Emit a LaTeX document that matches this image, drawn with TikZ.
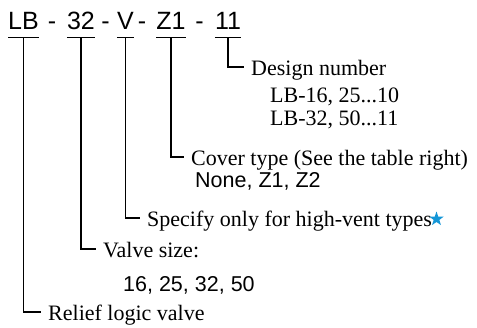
\documentclass[tikz,border=0pt]{standalone}
\usepackage{fontspec}
\setmainfont{Liberation Serif}
\setsansfont{Liberation Sans}
\usetikzlibrary{shapes.geometric}
\definecolor{starblue}{RGB}{20,150,215}

\tikzset{
    part/.style={font=\fontsize{25}{25}\sffamily, anchor=base, inner xsep=0pt, inner ysep=8.5pt, text depth=0pt},
    sep/.style={font=\fontsize{25}{25}\sffamily, anchor=base, inner sep=0pt},
    note/.style={font=\fontsize{22}{22}\selectfont, anchor=base west, inner xsep=7pt, inner ysep=0pt, text height=16pt, text depth=0pt},
    subnote/.style={font=\fontsize{22}{22}\selectfont, anchor=base west, inner sep=0pt},
    subcode/.style={font=\fontsize{21.5}{21.5}\sffamily, anchor=base west, inner sep=0pt},
    lead/.style={black, line width=1.2pt}
}

\begin{document}
\begin{tikzpicture}[x=1pt, y=-1pt]
\useasboundingbox (0,0) rectangle (477,327);
% model code
    \node[part] (lb) at (23.5,29) {LB};
    \node[sep] (d1) at (52,29) {-};
    \node[part] (size) at (81,29) {32};
    \node[sep] (d2) at (105.5,29) {-};
    \node[part] (vent) at (125.5,29) {V};
    \node[sep] (d3) at (142,29) {-};
    \node[part] (cover) at (171,29) {Z1};
    \node[sep] (d4) at (199.5,29) {-};
    \node[part] (design) at (228,29) {11};
    % underlines
    \foreach \p in {lb,size,vent,cover,design}
        \draw[lead] (\p.south west) -- (\p.south east);
    % notes
    \node[note] (designtxt) at (244,75) {Design number};
    \node[subnote] (design1) at (270,102) {LB-16, 25...10};
    \node[subnote] (design2) at (270,125) {LB-32, 50...11};
    \node[note] (covertxt) at (184,165) {Cover type (See the table right)};
    \node[subcode] (cover1) at (195,187) {None, Z1, Z2};
    \node[note] (venttxt) at (140,226) {Specify only for high-vent types};
    \node[note] (sizetxt) at (96,257) {Valve size:};
    \node[subcode] (size1) at (123,291) {16, 25, 32, 50};
    \node[note] (lbtxt) at (41,320) {Relief logic valve};
    \node[star, star points=5, star point ratio=2.5, minimum size=15pt, inner sep=0pt, fill=starblue] (mark) at (436.5,219) {};
    %draw leaders
    \draw[lead] (design.south) |- (designtxt.west);
    \draw[lead] (cover.south) |- (covertxt.west);
    \draw[lead] (vent.south) |- (venttxt.west);
    \draw[lead] (size.south) |- (sizetxt.west);
    \draw[lead] (lb.south) |- (lbtxt.west);
\end{tikzpicture}
\end{document}
